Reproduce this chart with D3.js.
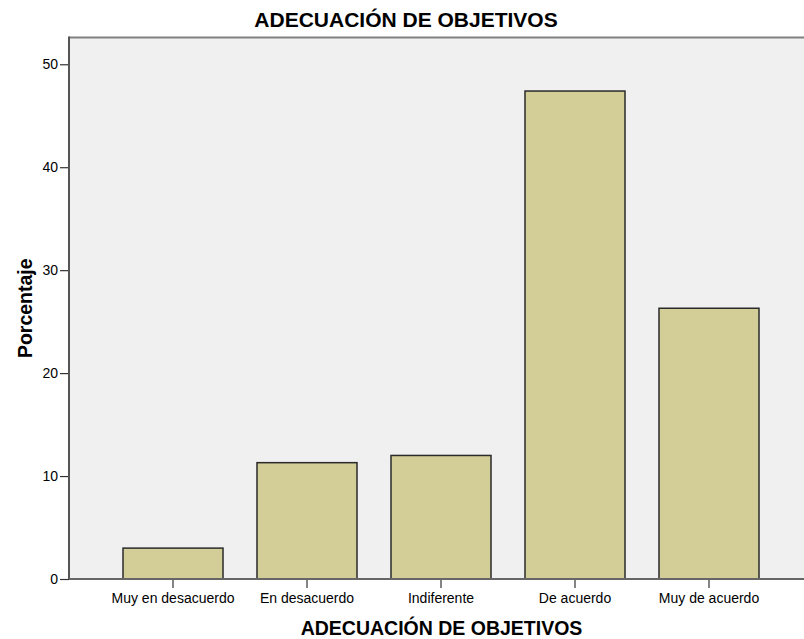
<!DOCTYPE html>
<html>
<head>
<meta charset="utf-8">
<script src="https://cdn.jsdelivr.net/npm/d3@7"></script>
<style>
  html, body { margin: 0; padding: 0; background: #ffffff; }
  svg { display: block; }
  text { font-family: "Liberation Sans", Arial, sans-serif; fill: #000; }
</style>
</head>
<body>
<svg id="chart" width="804" height="639"></svg>
<script>
const categories = ["Muy en desacuerdo", "En desacuerdo", "Indiferente", "De acuerdo", "Muy de acuerdo"];
const values = [3.0, 11.3, 12.0, 47.4, 26.3];
const yTicks = [0, 10, 20, 30, 40, 50];
const chartTitle = "ADECUACIÓN DE OBJETIVOS";
const xTitle = "ADECUACIÓN DE OBJETIVOS";
const yTitle = "Porcentaje";
const yMax = 52.6;

const svg = d3.select("#chart");
const plotLeft = 69, plotTop = 37.5, plotBottom = 579, plotRight = 804;

const x = d3.scaleBand()
  .domain(categories)
  .range([plotLeft, 813])
  .paddingInner(0.2537)
  .paddingOuter(0.403);

const y = d3.scaleLinear()
  .domain([0, yMax])
  .range([plotBottom, plotTop]);

// plot background
svg.append("rect")
  .attr("x", plotLeft).attr("y", plotTop)
  .attr("width", plotRight - plotLeft).attr("height", plotBottom - plotTop)
  .attr("fill", "#f0f0f0");

// top border
svg.append("line")
  .attr("x1", plotLeft).attr("x2", plotRight)
  .attr("y1", plotTop).attr("y2", plotTop)
  .attr("stroke", "#808080").attr("stroke-width", 2);

// bars
svg.append("g").selectAll("rect")
  .data(categories)
  .join("rect")
  .attr("x", d => x(d))
  .attr("y", (d, i) => y(values[i]))
  .attr("width", x.bandwidth())
  .attr("height", (d, i) => y(0) - y(values[i]))
  .attr("fill", "#d3ce97")
  .attr("stroke", "#2a2a2a")
  .attr("stroke-width", 1.5);

// y axis
const yAxis = svg.append("g")
  .attr("transform", `translate(${plotLeft},0)`)
  .call(d3.axisLeft(y).tickValues(yTicks).tickSize(9).tickPadding(2).tickSizeOuter(0));
yAxis.select(".domain").remove();
yAxis.append("line")
  .attr("x1", 0).attr("x2", 0).attr("y1", plotTop - 1).attr("y2", plotBottom)
  .attr("stroke", "#555").attr("stroke-width", 2);
yAxis.selectAll(".tick line").attr("stroke", "#333").attr("stroke-width", 1.2);
yAxis.selectAll(".tick text")
  .style("font-family", "'Liberation Sans', Arial, sans-serif")
  .style("font-size", "14px").attr("fill", "#222");

// x axis
const xAxis = svg.append("g")
  .attr("transform", `translate(0,${plotBottom})`)
  .call(d3.axisBottom(x).tickSize(9).tickPadding(5).tickSizeOuter(0));
xAxis.select(".domain").remove();
xAxis.append("line")
  .attr("x1", plotLeft).attr("x2", plotRight).attr("y1", 0).attr("y2", 0)
  .attr("stroke", "#666").attr("stroke-width", 2);
xAxis.selectAll(".tick line").attr("stroke", "#333").attr("stroke-width", 1.2);
xAxis.selectAll(".tick text")
  .style("font-family", "'Liberation Sans', Arial, sans-serif")
  .style("font-size", "14px").attr("fill", "#222");

// titles
svg.append("text")
  .attr("x", 406).attr("y", 27)
  .attr("text-anchor", "middle")
  .style("font-size", "21px").style("font-weight", "bold")
  .text(chartTitle);

svg.append("text")
  .attr("x", 441.5).attr("y", 635)
  .attr("text-anchor", "middle")
  .style("font-size", "19.5px").style("font-weight", "bold")
  .text(xTitle);

svg.append("text")
  .attr("transform", `translate(32,${(plotTop + plotBottom) / 2}) rotate(-90)`)
  .attr("text-anchor", "middle")
  .style("font-size", "19.5px").style("font-weight", "bold")
  .text(yTitle);
</script>
</body>
</html>
